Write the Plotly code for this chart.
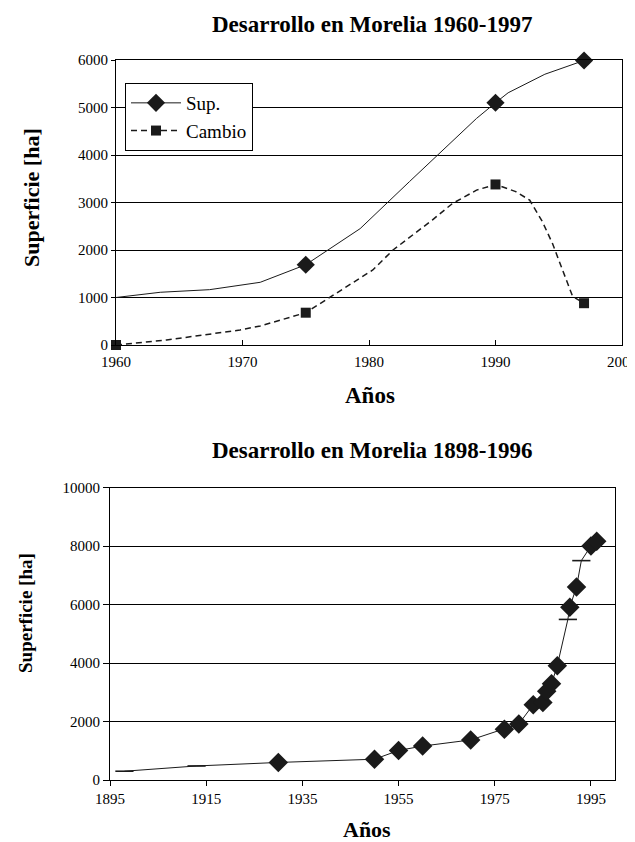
import plotly.graph_objects as go

# ---------- Top chart data (1960-1997) ----------
sup_curve_years = [1960, 1963.5, 1967.4, 1971.4, 1975, 1979.3, 1983.2, 1988.5, 1990, 1991, 1993.9, 1997]
sup_curve_vals = [1000, 1110, 1165, 1320, 1690, 2450, 3440, 4770, 5100, 5310, 5700, 5990]
sup_mark_years = [1975, 1990, 1997]
sup_mark_vals = [1690, 5100, 5990]

cam_curve_years = [1960, 1964, 1969.8, 1971.4, 1975, 1976.6, 1980.3, 1981.9, 1985, 1986.6, 1988.5, 1990,
                   1991.6, 1992.7, 1993.7, 1994.5, 1996.1, 1997]
cam_curve_vals = [0, 105, 316, 400, 680, 947, 1580, 2000, 2630, 2980, 3260, 3380,
                  3230, 3050, 2600, 2140, 1020, 880]
cam_mark_years = [1960, 1975, 1990, 1997]
cam_mark_vals = [0, 680, 3380, 880]

# ---------- Bottom chart data (1898-1996) ----------
all_years = [1898, 1913, 1930, 1950, 1955, 1960, 1970, 1977, 1980, 1983, 1985, 1985.8, 1986.8, 1988,
             1990.2, 1990.6, 1992, 1993, 1995, 1996.2]
all_vals = [300, 480, 600, 710, 1010, 1160, 1370, 1735, 1915, 2575, 2650, 3030, 3290, 3910,
            5490, 5910, 6600, 7500, 8000, 8160]
dia_years = [1930, 1950, 1955, 1960, 1970, 1977, 1980, 1983, 1985, 1985.8, 1986.8, 1988, 1990.6, 1992, 1995, 1996.2]
dia_vals = [600, 710, 1010, 1160, 1370, 1735, 1915, 2575, 2650, 3030, 3290, 3910, 5910, 6600, 8000, 8160]
dash_years = [1898, 1913, 1990.2, 1993]
dash_vals = [300, 480, 5490, 7500]

top_xticks = [1960, 1970, 1980, 1990, 2000]
top_yticks = [0, 1000, 2000, 3000, 4000, 5000, 6000]
bot_xticks = [1895, 1915, 1935, 1955, 1975, 1995]
bot_yticks = [0, 2000, 4000, 6000, 8000, 10000]

FONT = "Liberation Serif"
INK = "#1a1a1a"
W, H = 635, 842
OFF = 8  # page body margin offset

fig = go.Figure()

# top chart
fig.add_trace(go.Scatter(x=sup_curve_years, y=sup_curve_vals, mode="lines",
                         line=dict(color=INK, width=1), showlegend=False, xaxis="x", yaxis="y"))
fig.add_trace(go.Scatter(x=cam_curve_years, y=cam_curve_vals, mode="lines",
                         line=dict(color=INK, width=1.5, dash="6px,4px"), showlegend=False, xaxis="x", yaxis="y"))
fig.add_trace(go.Scatter(x=sup_mark_years, y=sup_mark_vals, mode="markers", cliponaxis=False,
                         marker=dict(symbol="diamond", size=14, color=INK), showlegend=False, xaxis="x", yaxis="y"))
fig.add_trace(go.Scatter(x=cam_mark_years, y=cam_mark_vals, mode="markers", cliponaxis=False,
                         marker=dict(symbol="square", size=10, color=INK), showlegend=False, xaxis="x", yaxis="y"))
# legend entries
fig.add_trace(go.Scatter(x=[None], y=[None], mode="lines+markers", name="Sup.",
                         line=dict(color=INK, width=1), marker=dict(symbol="diamond", size=14, color=INK),
                         xaxis="x", yaxis="y"))
fig.add_trace(go.Scatter(x=[None], y=[None], mode="lines+markers", name="Cambio",
                         line=dict(color=INK, width=1.5, dash="6px,4px"), marker=dict(symbol="square", size=10, color=INK),
                         xaxis="x", yaxis="y"))

# bottom chart
fig.add_trace(go.Scatter(x=all_years, y=all_vals, mode="lines",
                         line=dict(color=INK, width=1), showlegend=False, xaxis="x2", yaxis="y2"))
fig.add_trace(go.Scatter(x=dia_years, y=dia_vals, mode="markers", cliponaxis=False,
                         marker=dict(symbol="diamond", size=15, color=INK), showlegend=False, xaxis="x2", yaxis="y2"))
fig.add_trace(go.Scatter(x=dash_years, y=dash_vals, mode="markers", cliponaxis=False,
                         marker=dict(symbol="line-ew", size=13, line=dict(color=INK, width=1.6)),
                         showlegend=False, xaxis="x2", yaxis="y2"))

def px_x(p):
    return (p - OFF) / W

def px_y(p):
    return 1 - (p - OFF) / H

axis_common = dict(showline=True, linecolor="black", linewidth=1, mirror=True, zeroline=False,
                   automargin=False, tickformat="d",
                   tickfont=dict(family=FONT, size=15, color="black"), tickcolor="black")

fig.update_layout(
    template="none",
    width=W, height=H, margin=dict(l=0, r=0, t=0, b=0, pad=0),
    paper_bgcolor="white", plot_bgcolor="white",
    font=dict(family=FONT, color="black"),
    xaxis=dict(domain=[px_x(116), px_x(622)], range=[1960, 2000], tickvals=top_xticks,
               ticks="inside", ticklen=5, showgrid=False, anchor="y", ticklabelstandoff=3, **axis_common),
    yaxis=dict(domain=[px_y(345), px_y(60)], range=[0, 6000], tickvals=top_yticks,
               ticks="outside", ticklen=4, showgrid=True, gridcolor="black", gridwidth=1, anchor="x",
               **axis_common),
    xaxis2=dict(domain=[px_x(110), px_x(615)], range=[1895, 2000], tickvals=bot_xticks,
                ticks="outside", ticklen=5, showgrid=False, anchor="y2", **axis_common),
    yaxis2=dict(domain=[px_y(780), px_y(487.5)], range=[0, 10000], tickvals=bot_yticks,
                ticks="outside", ticklen=6, showgrid=True, gridcolor="black", gridwidth=1, anchor="x2",
                **axis_common),
    legend=dict(x=px_x(125), y=px_y(83), xanchor="left", yanchor="top",
                bgcolor="white", bordercolor="black", borderwidth=1, itemwidth=50,
                font=dict(family=FONT, size=19, color="black"), tracegroupgap=0),
    showlegend=True,
)

ann = [
    dict(text="<b>Desarrollo en Morelia 1960-1997</b>", x=px_x(372), y=px_y(25), size=23),
    dict(text="<b>Años</b>", x=px_x(370), y=px_y(395), size=23),
    dict(text="<b>Superficie [ha]</b>", x=px_x(32), y=px_y(198), textangle=-90, size=22),
    dict(text="<b>Desarrollo en Morelia 1898-1996</b>", x=px_x(372), y=px_y(450), size=23),
    dict(text="<b>Años</b>", x=px_x(367), y=px_y(829), size=22),
    dict(text="<b>Superficie [ha]</b>", x=px_x(25), y=px_y(613), textangle=-90, size=19),
]
for a in ann:
    size = a.pop("size")
    fig.add_annotation(xref="paper", yref="paper", showarrow=False, xanchor="center", yanchor="middle",
                       font=dict(family=FONT, size=size, color="black"), **a)

fig.write_html("out.html")
